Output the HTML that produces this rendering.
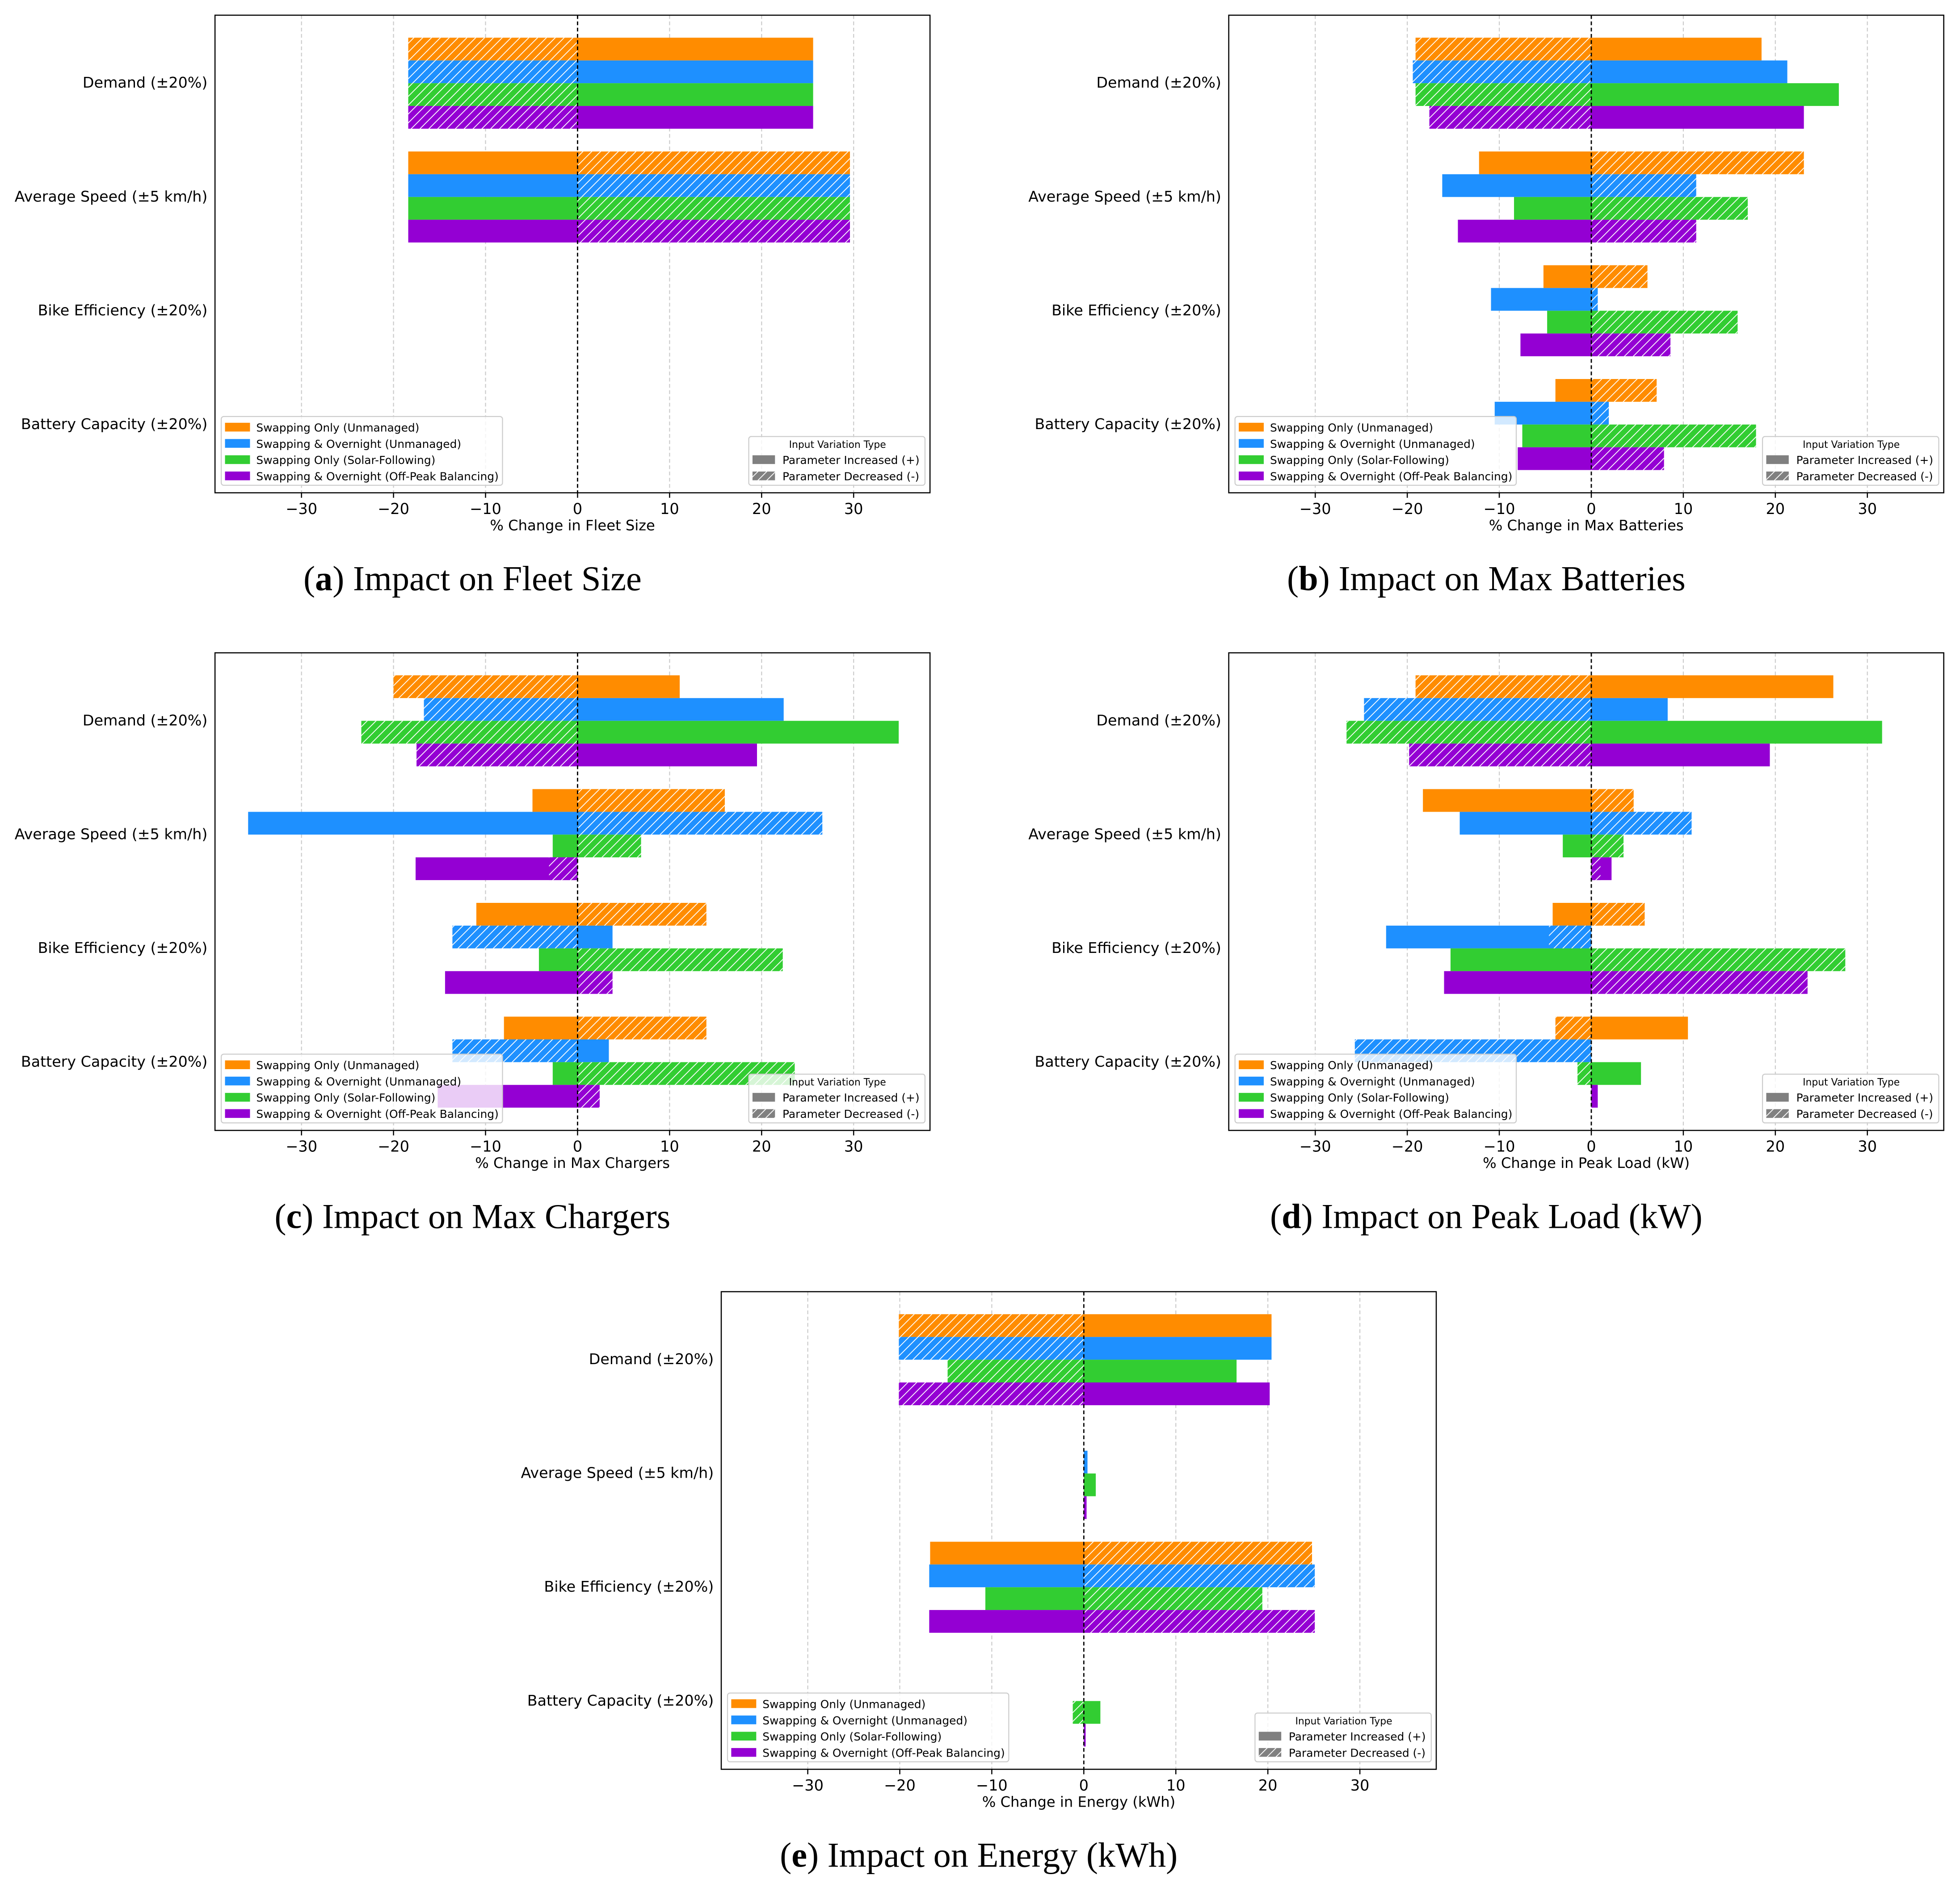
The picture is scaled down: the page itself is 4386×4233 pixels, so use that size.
<!DOCTYPE html>
<html><head><meta charset="utf-8">
<style>
html,body{margin:0;padding:0;background:#fff;}
svg{display:block;}
text{font-family:"DejaVu Sans","Liberation Sans",sans-serif;}
.cap{font-family:"Liberation Serif",serif;font-size:28px;}
</style></head>
<body>
<svg id="chart" width="4386" height="4233" viewBox="0 0 1568 1513" xmlns="http://www.w3.org/2000/svg">
<defs>
<pattern id="hatch" patternUnits="userSpaceOnUse" width="5" height="5" patternTransform="rotate(45)">
<line x1="0" y1="0" x2="0" y2="5" stroke="#fff" stroke-width="1.3"/>
</pattern>
</defs>
</svg>
<script>
const categories = ["Demand (±20%)", "Average Speed (±5 km/h)", "Bike Efficiency (±20%)", "Battery Capacity (±20%)"];
const seriesNames = ["Swapping Only (Unmanaged)", "Swapping & Overnight (Unmanaged)", "Swapping Only (Solar-Following)", "Swapping & Overnight (Off-Peak Balancing)"];
const seriesColors = ["#ff8c00", "#1e90ff", "#32cd32", "#9400d3"];
const xTicks = [-30, -20, -10, 0, 10, 20, 30];
const panelTitles = ["Impact on Fleet Size", "Impact on Max Batteries", "Impact on Max Chargers", "Impact on Peak Load (kW)", "Impact on Energy (kWh)"];
const panelLetters = ["a", "b", "c", "d", "e"];
const xLabels = ["% Change in Fleet Size", "% Change in Max Batteries", "% Change in Max Chargers", "% Change in Peak Load (kW)", "% Change in Energy (kWh)"];
// increased [category][series]
const incA = [[25.6,25.6,25.6,25.6],[-18.4,-18.4,-18.4,-18.4],[0,0,0,0],[0,0,0,0]];
const decA = [[-18.4,-18.4,-18.4,-18.4],[29.6,29.6,29.6,29.6],[0,0,0,0],[0,0,0,0]];
const incB = [[18.5,21.3,26.9,23.1],[-12.2,-16.2,-8.4,-14.5],[-5.2,-10.9,-4.8,-7.7],[-3.9,-10.5,-7.5,-8.0]];
const decB = [[-19.1,-19.4,-19.1,-17.6],[23.1,11.4,17.0,11.4],[6.1,0.7,15.9,8.6],[7.1,1.9,17.9,7.9]];
const incC = [[11.1,22.4,34.9,19.5],[-4.9,-35.8,-2.7,-17.6],[-11.0,3.8,-4.2,-14.4],[-8.0,3.4,-2.7,-15.2]];
const decC = [[-20.0,-16.7,-23.5,-17.5],[16.0,26.6,6.9,-3.1],[14.0,-13.6,22.3,3.8],[14.0,-13.6,23.6,2.4]];
const incD = [[26.3,8.3,31.6,19.4],[-18.3,-14.3,-3.1,2.2],[-4.2,-22.3,-15.3,-16.0],[10.5,0,5.4,0.7]];
const decD = [[-19.1,-24.7,-26.6,-19.8],[4.6,10.9,3.5,1.0],[5.8,-4.6,27.6,23.5],[-3.9,-25.7,-1.5,0]];
const incE = [[20.4,20.4,16.6,20.2],[0,0.4,1.3,0.3],[-16.7,-16.8,-10.7,-16.8],[0,0,1.8,0.2]];
const decE = [[-20.1,-20.1,-14.8,-20.1],[0,0,0,0],[24.8,25.1,19.4,25.1],[0,0,-1.2,0]];
const incData = [incA, incB, incC, incD, incE];
const decData = [decA, decB, decC, decD, decE];

const NS = "http://www.w3.org/2000/svg";
const svg = document.getElementById("chart");
const boxes = [[172,12],[983,12],[172,522],[983,522],[577,1033]];
const W = 572, H = 382, XMIN = -39.4, XMAX = 38.3;
function mk(tag, attrs, parent){ const e=document.createElementNS(NS,tag); for(const k in attrs) e.setAttribute(k,attrs[k]); (parent||svg).appendChild(e); return e; }

boxes.forEach((b, p) => {
  const g = mk("g", {});
  
  
  const x0 = b[0], y0 = b[1];
  const xs = v => x0 + (v - XMIN) / (XMAX - XMIN) * W;
  const yc = i => y0 + 54 + i * 91;
  xTicks.forEach(t => {
    if (t !== 0) {
      const gl = mk("line", {x1:xs(t),x2:xs(t),y1:y0,y2:y0+H,stroke:"#ccc","stroke-width":0.8,"stroke-dasharray":"3,2"}, g);
      
      
    }
  });
  categories.forEach((c, i) => {
    seriesNames.forEach((s, j) => {
      const yy = yc(i) - 36 + j * 18.2;
      [[incData[p][i][j], false], [decData[p][i][j], true]].forEach(([v, h]) => {
        if (v === 0) return;
        const xa = Math.min(xs(0), xs(v)), w = Math.abs(xs(v) - xs(0));
        const r = mk("rect", {x:xa,y:yy,width:w,height:18.2,fill:seriesColors[j]}, g);
        
        
        if (h) {
          const r2 = mk("rect", {x:xa,y:yy,width:w,height:18.2,fill:"url(#hatch)"}, g);
          
          
        }
      });
    });
    const t = mk("text", {x:x0-6,y:yc(i)+4,"text-anchor":"end","font-size":11.9}, g);
    t.textContent = c;
    
    
  });
  const z = mk("line", {x1:xs(0),x2:xs(0),y1:y0,y2:y0+H,stroke:"#000","stroke-width":1,"stroke-dasharray":"3,2"}, g);
  
  
  const fr = mk("rect", {x:x0,y:y0,width:W,height:H,fill:"none",stroke:"#000","stroke-width":0.9}, g);
  
  
  xTicks.forEach(t => {
    const tk = mk("line", {x1:xs(t),x2:xs(t),y1:y0+H,y2:y0+H+4,stroke:"#000","stroke-width":0.9}, g);
    
    
    const tl = mk("text", {x:xs(t),y:y0+H+17,"text-anchor":"middle","font-size":12}, g);
    tl.textContent = t < 0 ? "−" + Math.abs(t) : String(t);
    
    
  });
  const xl = mk("text", {x:x0+W/2,y:y0+H+30,"text-anchor":"middle","font-size":11.5}, g);
  xl.textContent = xLabels[p];
  
  
  const lg = mk("g", {}, g);
  
  
  mk("rect", {x:x0+5,y:y0+321,width:225,height:55,rx:2,fill:"#fff","fill-opacity":0.8,stroke:"#ccc","stroke-width":0.8}, lg);
  seriesNames.forEach((s, j) => {
    const e = mk("g", {}, lg);
    
    
    mk("rect", {x:x0+8,y:y0+326+j*13,width:20,height:7,fill:seriesColors[j]}, e);
    const tt = mk("text", {x:x0+33,y:y0+333+j*13,"font-size":8.9}, e);
    tt.textContent = s;
  });
  const lg2 = mk("g", {}, g);
  
  
  mk("rect", {x:x0+W-145,y:y0+337,width:141,height:39,rx:2,fill:"#fff","fill-opacity":0.8,stroke:"#ccc","stroke-width":0.8}, lg2);
  const tt2 = mk("text", {x:x0+W-74,y:y0+346,"text-anchor":"middle","font-size":7.8}, lg2);
  tt2.textContent = "Input Variation Type";
  mk("rect", {x:x0+W-142,y:y0+352,width:18,height:7,fill:"#808080"}, lg2);
  mk("rect", {x:x0+W-142,y:y0+365,width:18,height:7,fill:"#808080"}, lg2);
  mk("rect", {x:x0+W-142,y:y0+365,width:18,height:7,fill:"url(#hatch)"}, lg2);
  const a1 = mk("text", {x:x0+W-118,y:y0+359,"font-size":8.9}, lg2); a1.textContent = "Parameter Increased (+)";
  const a2 = mk("text", {x:x0+W-118,y:y0+372,"font-size":8.9}, lg2); a2.textContent = "Parameter Decreased (-)";
  const capX = (x0 - 160 + x0 + W) / 2;
  const cp = mk("text", {x:capX,y:y0+H+78,"text-anchor":"middle",class:"cap"});
  
  
  const t1 = mk("tspan", {}, cp); t1.textContent = "(";
  const t2 = mk("tspan", {"font-weight":"bold"}, cp); t2.textContent = panelLetters[p];
  const t3 = mk("tspan", {}, cp); t3.textContent = ") " + panelTitles[p];
});
</script>
</body></html>
